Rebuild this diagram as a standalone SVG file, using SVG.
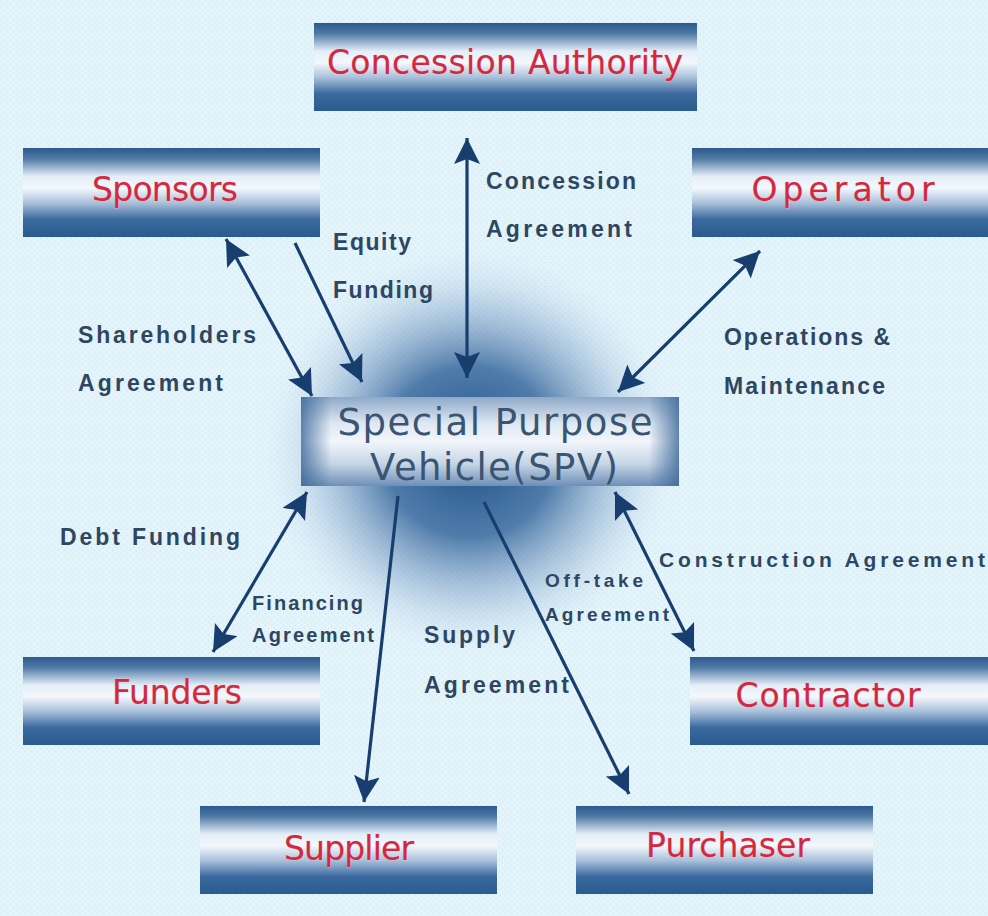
<svg xmlns="http://www.w3.org/2000/svg" width="988" height="916" viewBox="0 0 988 916">
  <defs>
    <pattern id="dots" width="6" height="6" patternUnits="userSpaceOnUse">
      <circle cx="1.5" cy="1.5" r="0.9" fill="#d3e9f3"/>
      <circle cx="4.5" cy="4.5" r="0.9" fill="#d3e9f3"/>
    </pattern>
    <linearGradient id="boxGrad" x1="0" y1="0" x2="0" y2="1">
      <stop offset="0" stop-color="#2c5a8c"/>
      <stop offset="0.12" stop-color="#4f7aa6"/>
      <stop offset="0.32" stop-color="#e4eef7"/>
      <stop offset="0.45" stop-color="#f4f8fc"/>
      <stop offset="0.62" stop-color="#a8c0da"/>
      <stop offset="0.8" stop-color="#3c6a9f"/>
      <stop offset="1" stop-color="#2a5a8e"/>
    </linearGradient>
    <linearGradient id="spvGrad" x1="0" y1="0" x2="0" y2="1">
      <stop offset="0" stop-color="#8ea9c8"/>
      <stop offset="0.3" stop-color="#dfe8f3"/>
      <stop offset="0.5" stop-color="#f2f6fb"/>
      <stop offset="0.75" stop-color="#c6d5e6"/>
      <stop offset="1" stop-color="#6d8fb7"/>
    </linearGradient>
    <linearGradient id="spvEdge" x1="0" y1="0" x2="1" y2="0">
      <stop offset="0" stop-color="#3b6797" stop-opacity="0.8"/>
      <stop offset="0.08" stop-color="#3b6797" stop-opacity="0"/>
      <stop offset="0.92" stop-color="#3b6797" stop-opacity="0"/>
      <stop offset="1" stop-color="#3b6797" stop-opacity="0.8"/>
    </linearGradient>
    <radialGradient id="haze" cx="0.5" cy="0.5" r="0.5">
      <stop offset="0" stop-color="#1d4f88" stop-opacity="1"/>
      <stop offset="0.4" stop-color="#2b5e96" stop-opacity="0.8"/>
      <stop offset="0.7" stop-color="#6f94bf" stop-opacity="0.35"/>
      <stop offset="1" stop-color="#e4f4fb" stop-opacity="0"/>
    </radialGradient>
    <marker id="head" markerUnits="userSpaceOnUse" markerWidth="30" markerHeight="30" refX="26" refY="13" orient="auto-start-reverse">
      <path d="M0,0 L26,13 L0,26 L5,13 z" fill="#173e6e"/>
    </marker>
    <style>
      .box { fill: url(#boxGrad); }
      .name { font-family: "DejaVu Sans", "Liberation Sans", sans-serif; font-size: 33px; fill: #d22840; stroke: #f6c0cc; stroke-width: 0.6; paint-order: stroke; text-anchor: middle; }
      .spv { font-family: "DejaVu Sans", "Liberation Sans", sans-serif; font-size: 37px; fill: #3a5573; text-anchor: middle; }
      .lbl { font-family: "Liberation Sans", Arial, sans-serif; font-size: 23px; font-weight: bold; fill: #2f4662; }
      .conn line { stroke: #173e6e; stroke-width: 3.2; }
    </style>
  </defs>

  <!-- background -->
  <rect width="988" height="916" fill="#e4f4fb"/>
  <rect width="988" height="916" fill="url(#dots)"/>
  <ellipse cx="470" cy="452" rx="215" ry="212" fill="url(#haze)"/>

  <!-- nodes -->
  <g id="concession-authority">
    <rect class="box" x="314" y="23" width="383" height="88"/>
    <text class="name" x="505" y="74" textLength="356" lengthAdjust="spacing">Concession Authority</text>
  </g>
  <g id="sponsors">
    <rect class="box" x="23" y="148" width="297" height="89"/>
    <text class="name" x="165" y="201" textLength="146" lengthAdjust="spacing">Sponsors</text>
  </g>
  <g id="operator">
    <rect class="box" x="692" y="148" width="296" height="89"/>
    <text class="name" x="843" y="201" textLength="183" lengthAdjust="spacing">Operator</text>
  </g>
  <g id="spv">
    <rect x="301" y="397" width="378" height="89" fill="url(#spvGrad)"/>
    <rect x="301" y="397" width="378" height="89" fill="url(#spvEdge)"/>
    <text class="spv" x="495" y="435" textLength="315" lengthAdjust="spacing">Special Purpose</text>
    <text class="spv" x="494" y="480" textLength="248" lengthAdjust="spacing">Vehicle(SPV)</text>
  </g>
  <g id="funders">
    <rect class="box" x="23" y="657" width="297" height="88"/>
    <text class="name" x="177" y="704" textLength="130" lengthAdjust="spacing">Funders</text>
  </g>
  <g id="contractor">
    <rect class="box" x="690" y="657" width="298" height="88"/>
    <text class="name" x="828" y="707" textLength="185" lengthAdjust="spacing">Contractor</text>
  </g>
  <g id="supplier">
    <rect class="box" x="200" y="806" width="297" height="88"/>
    <text class="name" x="349" y="860" textLength="130" lengthAdjust="spacing">Supplier</text>
  </g>
  <g id="purchaser">
    <rect class="box" x="576" y="806" width="297" height="88"/>
    <text class="name" x="728" y="857" textLength="164" lengthAdjust="spacing">Purchaser</text>
  </g>

  <!-- connectors -->
  <g id="connectors" class="conn">
    <line x1="467" y1="138" x2="467" y2="378" marker-start="url(#head)" marker-end="url(#head)"/>
    <line x1="226" y1="239" x2="312" y2="396" marker-start="url(#head)" marker-end="url(#head)"/>
    <line x1="295" y1="243" x2="362" y2="382" marker-end="url(#head)"/>
    <line x1="760" y1="251" x2="618" y2="392" marker-start="url(#head)" marker-end="url(#head)"/>
    <line x1="307" y1="492" x2="213" y2="652" marker-start="url(#head)" marker-end="url(#head)"/>
    <line x1="398" y1="496" x2="364" y2="802" marker-end="url(#head)"/>
    <line x1="484" y1="502" x2="629" y2="794" marker-end="url(#head)"/>
    <line x1="615" y1="492" x2="694" y2="651" marker-start="url(#head)" marker-end="url(#head)"/>
  </g>

  <!-- connector labels -->
  <g id="labels">
    <text class="lbl" x="486" y="189" textLength="150" lengthAdjust="spacing">Concession</text>
    <text class="lbl" x="486" y="237" textLength="146" lengthAdjust="spacing">Agreement</text>
    <text class="lbl" x="333" y="250" textLength="78" lengthAdjust="spacing">Equity</text>
    <text class="lbl" x="333" y="298" textLength="100" lengthAdjust="spacing">Funding</text>
    <text class="lbl" x="78" y="343" textLength="178" lengthAdjust="spacing">Shareholders</text>
    <text class="lbl" x="78" y="391" textLength="145" lengthAdjust="spacing">Agreement</text>
    <text class="lbl" x="724" y="345" textLength="166" lengthAdjust="spacing">Operations &amp;</text>
    <text class="lbl" x="724" y="394" textLength="161" lengthAdjust="spacing">Maintenance</text>
    <text class="lbl" x="60" y="545" textLength="180" lengthAdjust="spacing">Debt Funding</text>
    <text class="lbl" x="252" y="610" textLength="111" lengthAdjust="spacing" style="font-size:20px">Financing</text>
    <text class="lbl" x="252" y="642" textLength="122" lengthAdjust="spacing" style="font-size:20px">Agreement</text>
    <text class="lbl" x="424" y="643" textLength="91" lengthAdjust="spacing">Supply</text>
    <text class="lbl" x="424" y="693" textLength="145" lengthAdjust="spacing">Agreement</text>
    <text class="lbl" x="545" y="587" textLength="98" lengthAdjust="spacing" style="font-size:19px">Off-take</text>
    <text class="lbl" x="545" y="621" textLength="124" lengthAdjust="spacing" style="font-size:19px">Agreement</text>
    <text class="lbl" x="659" y="567" textLength="326" lengthAdjust="spacing" style="font-size:21px">Construction Agreement</text>
  </g>
</svg>
